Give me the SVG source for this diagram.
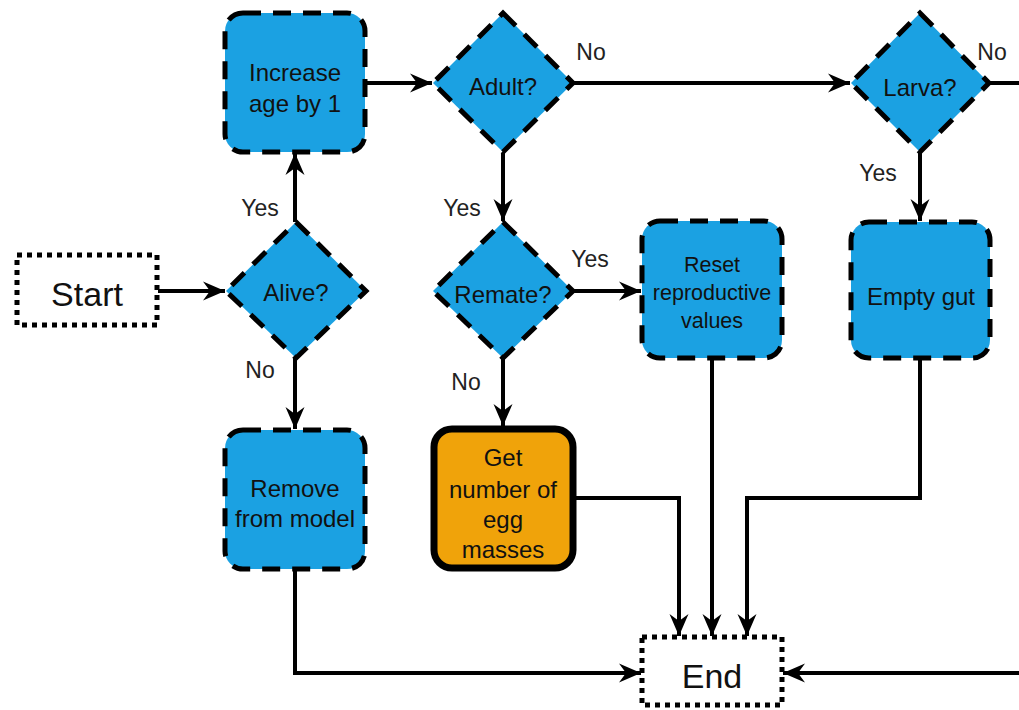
<svg xmlns="http://www.w3.org/2000/svg" width="1019" height="710" viewBox="0 0 1019 710">
  <style>
    .t { font-family: "Liberation Sans", Arial, sans-serif; fill: #111; text-anchor: middle; dominant-baseline: central; }
    .node { font-size: 24px; }
    .small { font-size: 21.5px; }
    .big { font-size: 34px; }
    .lbl { font-family: "Liberation Sans", Arial, sans-serif; font-size: 23px; fill: #222; text-anchor: middle; dominant-baseline: central; }
    .term { fill: #fff; stroke: #000; stroke-width: 5; stroke-dasharray: 5 5; }
    .proc { fill: #1ba1e2; stroke: #000; stroke-width: 5; stroke-dasharray: 18 12; }
    .dec { fill: #1ba1e2; stroke: #000; stroke-width: 5; stroke-dasharray: 18 12; }
    .hl { fill: #f0a30a; stroke: #000; stroke-width: 7; }
    .edge { fill: none; stroke: #000; stroke-width: 4; }
    .arr { marker-end: url(#ah); }
  </style>
  <defs>
    <!-- notched arrowhead, tip at the path end -->
    <marker id="ah" markerUnits="userSpaceOnUse" markerWidth="26" markerHeight="22" refX="23" refY="11" orient="auto" viewBox="0 0 26 22">
      <path d="M23,11 L1,1.5 L8,11 L1,20.5 Z" fill="#000"/>
    </marker>
  </defs>

  <g id="connectors">
    <path class="edge arr" d="M158,291 L225,291"/>
    <path class="edge arr" d="M295,222 L295,153"/>
    <path class="edge arr" d="M295,358 L295,429"/>
    <path class="edge arr" d="M365,83 L432,83"/>
    <path class="edge arr" d="M573,83 L850,83"/>
    <path class="edge" d="M988,83 L1019,83"/>
    <path class="edge arr" d="M503,153 L503,221"/>
    <path class="edge arr" d="M573,291 L641,291"/>
    <path class="edge arr" d="M503,358 L503,426"/>
    <path class="edge arr" d="M920,153 L920,221"/>
    <path class="edge arr" d="M576,498 L679,498 L679,636"/>
    <path class="edge arr" d="M712,358 L712,636"/>
    <path class="edge arr" d="M920,358 L920,498 L747,498 L747,636"/>
    <path class="edge arr" d="M295,569 L295,673 L641,673"/>
    <path class="edge arr" d="M1019,673 L783,673"/>
  </g>

  <g id="edge-labels">
    <text class="lbl" x="260" y="208">Yes</text>
    <text class="lbl" x="260" y="370">No</text>
    <text class="lbl" x="591" y="52">No</text>
    <text class="lbl" x="462" y="208">Yes</text>
    <text class="lbl" x="590" y="259">Yes</text>
    <text class="lbl" x="466" y="382">No</text>
    <text class="lbl" x="878" y="173">Yes</text>
    <text class="lbl" x="992" y="52">No</text>
  </g>

  <g id="start">
    <rect class="term" x="17" y="255" width="140" height="70"/>
    <text class="t big" x="87" y="294">Start</text>
  </g>

  <g id="alive">
    <path class="dec" d="M296,222 L366,291 L296,358 L226,291 Z"/>
    <text class="t node" x="296" y="292">Alive?</text>
  </g>

  <g id="increase-age">
    <rect class="proc" x="225" y="13" width="140" height="139" rx="18"/>
    <text class="t node" x="295" y="72">Increase</text>
    <text class="t node" x="295" y="103">age by 1</text>
  </g>

  <g id="adult">
    <path class="dec" d="M503,13 L573,83 L503,152 L433,83 Z"/>
    <text class="t node" x="503" y="86">Adult?</text>
  </g>

  <g id="larva">
    <path class="dec" d="M920,13 L989,83 L920,152 L851,83 Z"/>
    <text class="t node" x="920" y="87">Larva?</text>
  </g>

  <g id="remate">
    <path class="dec" d="M503,222 L573,291 L503,358 L433,291 Z"/>
    <text class="t node" x="503" y="294">Remate?</text>
  </g>

  <g id="reset-values">
    <rect class="proc" x="642" y="221" width="140" height="137" rx="18"/>
    <text class="t small" x="712" y="265">Reset</text>
    <text class="t small" x="712" y="293">reproductive</text>
    <text class="t small" x="712" y="321">values</text>
  </g>

  <g id="empty-gut">
    <rect class="proc" x="851" y="222" width="139" height="136" rx="18"/>
    <text class="t node" x="921" y="296">Empty gut</text>
  </g>

  <g id="remove">
    <rect class="proc" x="225" y="430" width="140" height="139" rx="18"/>
    <text class="t node" x="295" y="488">Remove</text>
    <text class="t node" x="295" y="518">from model</text>
  </g>

  <g id="egg-masses">
    <rect class="hl" x="434" y="429" width="139" height="139" rx="18"/>
    <text class="t node" x="503" y="457">Get</text>
    <text class="t node" x="503" y="489">number of</text>
    <text class="t node" x="503" y="519">egg</text>
    <text class="t node" x="503" y="549">masses</text>
  </g>

  <g id="end">
    <rect class="term" x="642" y="637" width="140" height="68"/>
    <text class="t big" x="712" y="676">End</text>
  </g>
</svg>
